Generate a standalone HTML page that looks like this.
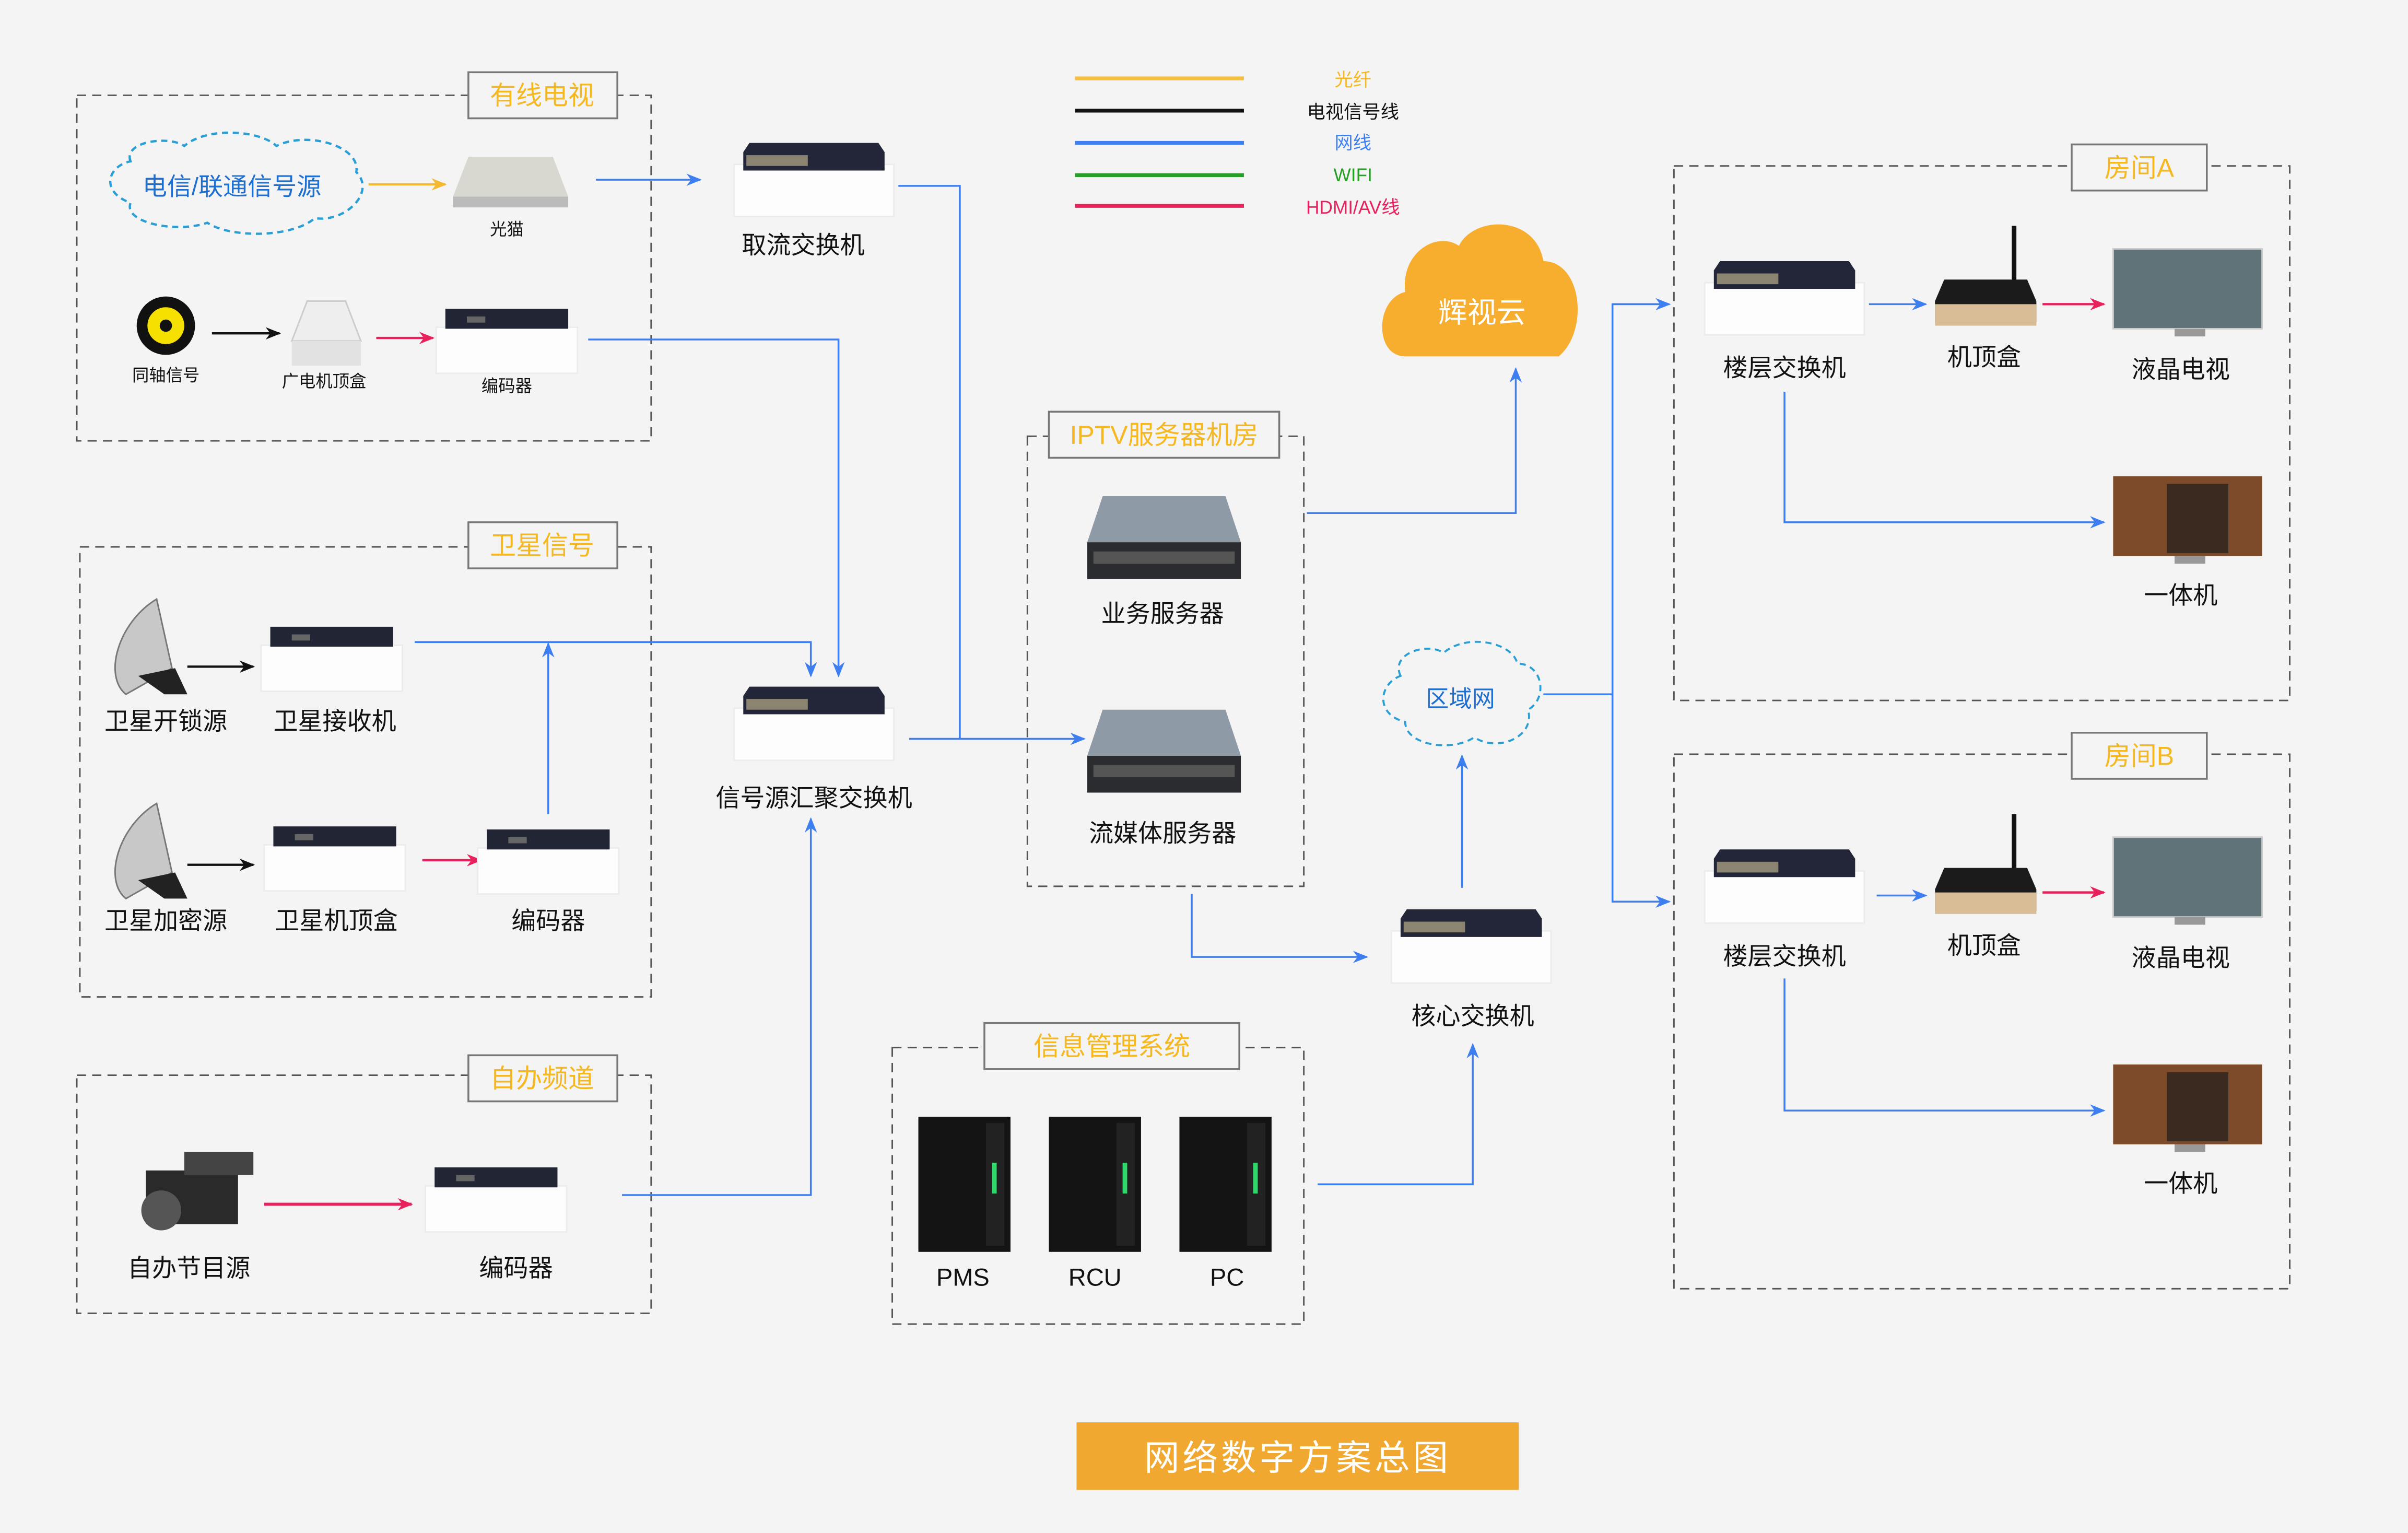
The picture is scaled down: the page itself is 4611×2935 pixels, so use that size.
<!DOCTYPE html>
<html><head><meta charset="utf-8"><style>
html,body{margin:0;padding:0;background:#f4f4f4;}
svg{display:block;}
text{font-family:"Liberation Sans","Noto Sans CJK SC",sans-serif;}
</style></head><body>
<svg width="4611" height="2935" viewBox="0 0 1568 998" xmlns="http://www.w3.org/2000/svg">
<defs>
<marker id="ab" markerWidth="10" markerHeight="8" refX="9" refY="4" orient="auto" markerUnits="userSpaceOnUse"><path d="M0,0 L10,4 L0,8 L3,4z" fill="#3d7ff0"/></marker>
<marker id="ap" markerWidth="10" markerHeight="8" refX="9" refY="4" orient="auto" markerUnits="userSpaceOnUse"><path d="M0,0 L10,4 L0,8 L3,4z" fill="#e8205c"/></marker>
<marker id="ak" markerWidth="10" markerHeight="8" refX="9" refY="4" orient="auto" markerUnits="userSpaceOnUse"><path d="M0,0 L10,4 L0,8 L3,4z" fill="#111"/></marker>
<marker id="ao" markerWidth="10" markerHeight="8" refX="9" refY="4" orient="auto" markerUnits="userSpaceOnUse"><path d="M0,0 L10,4 L0,8 L3,4z" fill="#f5b830"/></marker>
<g id="sw">
<rect x="-6" y="14" width="104" height="34" fill="#fdfdfd" stroke="#ececec"/>
<path d="M4,0 L88,0 L92,6 L92,18 L0,18 L0,6z" fill="#232638"/>
<rect x="2" y="8" width="40" height="7" fill="#8a8470"/>
</g>
<g id="enc">
<rect x="-6" y="12" width="92" height="30" fill="#fdfdfd" stroke="#ececec"/>
<rect x="0" y="0" width="80" height="13" fill="#222533"/>
<rect x="14" y="5" width="12" height="4" fill="#666"/>
</g>
<g id="srv">
<path d="M10,0 L90,0 L100,30 L0,30z" fill="#8e9aa5"/>
<rect x="0" y="30" width="100" height="24" fill="#2a2c30"/>
<rect x="4" y="36" width="92" height="8" fill="#555"/>
</g>
<g id="tower">
<rect x="0" y="0" width="60" height="88" fill="#141414"/>
<rect x="44" y="4" width="12" height="80" fill="#222"/>
<rect x="48" y="30" width="3" height="20" fill="#2fd86a"/>
</g>
<g id="stb">
<rect x="50" y="-35" width="3" height="40" fill="#111"/>
<path d="M6,0 L60,0 L66,14 L66,28 L0,28 L0,14z" fill="#1b1b1b"/>
<rect x="0" y="16" width="66" height="14" fill="#d8bd96"/>
</g>
<g id="tv">
<rect x="0" y="0" width="97" height="52" fill="#5f7378"/>
<rect x="0" y="0" width="97" height="52" fill="none" stroke="#ccc"/>
<rect x="40" y="52" width="20" height="5" fill="#999"/>
</g>
<g id="tv2">
<rect x="0" y="0" width="97" height="52" fill="#7d4a2a"/>
<rect x="35" y="5" width="40" height="45" fill="#3a2a20"/>
<rect x="40" y="52" width="20" height="5" fill="#999"/>
</g>
<g id="dish">
<path d="M30,0 C5,15 -5,50 10,62 L40,45z" fill="#c8c8c8" stroke="#777"/>
<path d="M18,50 L35,62 L50,62 L42,45z" fill="#222"/>
</g>
</defs>
<rect width="1568" height="998" fill="#f4f4f4"/>
<g fill="none" stroke="#555" stroke-width="1" stroke-dasharray="6,4">
<rect x="50" y="62" width="374" height="225"/>
<rect x="52" y="356" width="372" height="293"/>
<rect x="50" y="700" width="374" height="155"/>
<rect x="669" y="284" width="180" height="293"/>
<rect x="581" y="682" width="268" height="180"/>
<rect x="1090" y="108" width="401" height="348"/>
<rect x="1090" y="491" width="401" height="348"/>
</g>
<g fill="#f4f4f4" stroke="#777" stroke-width="1.2">
<rect x="305" y="47" width="97" height="30"/><rect x="305" y="340" width="97" height="30"/><rect x="305" y="687" width="97" height="30"/>
<rect x="683" y="268" width="150" height="30"/><rect x="641" y="666" width="166" height="30"/>
<rect x="1349" y="94" width="88" height="30"/><rect x="1349" y="477" width="88" height="30"/>
</g>
<g fill="#f5b820" font-size="17" text-anchor="middle">
<text x="353" y="68">有线电视</text><text x="353" y="361">卫星信号</text><text x="353" y="708">自办频道</text>
<text x="758" y="289">IPTV服务器机房</text><text x="724" y="687">信息管理系统</text>
<text x="1393" y="115">房间A</text><text x="1393" y="498">房间B</text>
</g>
<!-- legend -->
<g stroke-width="2.5">
<line x1="700" y1="51" x2="810" y2="51" stroke="#f5c040"/>
<line x1="700" y1="72" x2="810" y2="72" stroke="#111"/>
<line x1="700" y1="93" x2="810" y2="93" stroke="#3d7ff0"/>
<line x1="700" y1="114" x2="810" y2="114" stroke="#28a028"/>
<line x1="700" y1="134" x2="810" y2="134" stroke="#e8205c"/>
</g>
<g font-size="12" text-anchor="middle">
<text x="881" y="56" fill="#f5b820">光纤</text><text x="881" y="77" fill="#111">电视信号线</text>
<text x="881" y="97" fill="#3d7ff0">网线</text><text x="881" y="118" fill="#28a028">WIFI</text>
<text x="881" y="139" fill="#e8205c">HDMI/AV线</text>
</g>
<!-- clouds -->
<path d="M85,105 C80,92 110,88 120,95 C135,82 170,85 180,95 C200,85 235,95 232,112 C245,125 225,145 205,142 C190,155 150,155 135,145 C115,152 80,145 85,132 C65,125 70,108 85,105z" fill="none" stroke="#2a9fd6" stroke-width="1.5" stroke-dasharray="4,3"/>
<text x="151" y="127" fill="#1f6fd0" font-size="16" text-anchor="middle">电信/联通信号源</text>
<path d="M915,232 C895,232 895,195 915,190 C912,165 935,150 950,160 C960,140 1000,140 1005,170 C1030,170 1035,215 1015,232z" fill="#f7ae2e"/>
<text x="965" y="210" fill="#fff" font-size="19" text-anchor="middle">辉视云</text>
<path d="M912,440 C905,425 930,418 940,425 C955,412 985,418 988,432 C1005,432 1008,455 995,462 C1000,480 975,490 960,480 C945,490 915,485 915,470 C895,465 898,445 912,440z" fill="none" stroke="#2a9fd6" stroke-width="1.3" stroke-dasharray="4,3"/>
<text x="951" y="460" fill="#1f6fd0" font-size="15" text-anchor="middle">区域网</text>
<!-- connectors -->
<g fill="none" stroke="#3d7ff0" stroke-width="1.2">
<line x1="388" y1="117" x2="456" y2="117" marker-end="url(#ab)"/>
<polyline points="585,121 625,121 625,481"/>
<polyline points="383,221 546,221 546,440" marker-end="url(#ab)"/>
<polyline points="270,418 528,418 528,440" marker-end="url(#ab)"/>
<line x1="357" y1="530" x2="357" y2="419" marker-end="url(#ab)"/>
<polyline points="405,778 528,778 528,533" marker-end="url(#ab)"/>
<line x1="592" y1="481" x2="706" y2="481" marker-end="url(#ab)"/>
<polyline points="851,334 987,334 987,240" marker-end="url(#ab)"/>
<line x1="952" y1="578" x2="952" y2="492" marker-end="url(#ab)"/>
<polyline points="776,582 776,623 890,623" marker-end="url(#ab)"/>
<polyline points="858,771 959,771 959,680" marker-end="url(#ab)"/>
<line x1="1005" y1="452" x2="1050" y2="452"/>
<polyline points="1087,198 1050,198 1050,587 1087,587"/>
<line x1="1050" y1="198" x2="1087" y2="198" marker-end="url(#ab)"/>
<line x1="1050" y1="587" x2="1087" y2="587" marker-end="url(#ab)"/>
<line x1="1217" y1="198" x2="1254" y2="198" marker-end="url(#ab)"/>
<line x1="1222" y1="583" x2="1254" y2="583" marker-end="url(#ab)"/>
<polyline points="1162,255 1162,340 1370,340" marker-end="url(#ab)"/>
<polyline points="1162,637 1162,723 1370,723" marker-end="url(#ab)"/>
</g>
<g stroke-width="1.5" fill="none">
<line x1="240" y1="120" x2="290" y2="120" stroke="#f5b830" marker-end="url(#ao)"/>
<line x1="138" y1="217" x2="182" y2="217" stroke="#111" marker-end="url(#ak)"/>
<line x1="122" y1="434" x2="165" y2="434" stroke="#111" marker-end="url(#ak)"/>
<line x1="122" y1="563" x2="165" y2="563" stroke="#111" marker-end="url(#ak)"/>
<line x1="245" y1="220" x2="282" y2="220" stroke="#e8205c" marker-end="url(#ap)"/>
<line x1="275" y1="560" x2="313" y2="560" stroke="#e8205c" marker-end="url(#ap)"/>
<line x1="172" y1="784" x2="268" y2="784" stroke="#e8205c" stroke-width="2" marker-end="url(#ap)"/>
<line x1="1330" y1="198" x2="1370" y2="198" stroke="#e8205c" marker-end="url(#ap)"/>
<line x1="1330" y1="581" x2="1370" y2="581" stroke="#e8205c" marker-end="url(#ap)"/>
</g>
<!-- devices -->
<path d="M305,102 L360,102 L370,128 L295,128z" fill="#d8d8d0"/><rect x="295" y="128" width="75" height="7" fill="#bbb"/>
<circle cx="108" cy="212" r="19" fill="#111"/><circle cx="108" cy="212" r="12" fill="#f5e000"/><circle cx="108" cy="212" r="4" fill="#111"/>
<path d="M200,196 L225,196 L235,222 L190,222z" fill="#eee" stroke="#ccc"/><rect x="190" y="222" width="45" height="16" fill="#e2e2e2"/>
<use href="#enc" x="290" y="201"/>
<use href="#sw" x="484" y="93"/>
<use href="#dish" x="72" y="390"/><use href="#dish" x="72" y="523"/>
<use href="#enc" x="176" y="408"/><use href="#enc" x="178" y="538"/><use href="#enc" x="317" y="540"/>
<rect x="95" y="762" width="60" height="35" fill="#2a2a2a"/><circle cx="105" cy="788" r="13" fill="#555"/><rect x="120" y="750" width="45" height="15" fill="#444"/>
<use href="#enc" x="283" y="760"/>
<use href="#sw" x="484" y="447"/>
<use href="#srv" x="708" y="323"/><use href="#srv" x="708" y="462"/>
<use href="#sw" x="912" y="592"/>
<use href="#tower" x="598" y="727"/><use href="#tower" x="683" y="727"/><use href="#tower" x="768" y="727"/>
<use href="#sw" x="1116" y="170"/><use href="#sw" x="1116" y="553"/>
<use href="#stb" x="1260" y="182"/><use href="#stb" x="1260" y="565"/>
<use href="#tv" x="1376" y="162"/><use href="#tv" x="1376" y="545"/>
<use href="#tv2" x="1376" y="310"/><use href="#tv2" x="1376" y="693"/>
<!-- labels -->
<g fill="#111" text-anchor="middle">
<g font-size="11"><text x="330" y="153">光猫</text><text x="108" y="248">同轴信号</text><text x="211" y="252">广电机顶盒</text><text x="330" y="255">编码器</text></g>
<g font-size="16">
<text x="523" y="165">取流交换机</text>
<text x="108" y="475">卫星开锁源</text><text x="218" y="475">卫星接收机</text>
<text x="108" y="605">卫星加密源</text><text x="219" y="605">卫星机顶盒</text><text x="357" y="605">编码器</text>
<text x="123" y="831">自办节目源</text><text x="336" y="831">编码器</text>
<text x="530" y="525">信号源汇聚交换机</text>
<text x="757" y="405">业务服务器</text><text x="757" y="548">流媒体服务器</text>
<text x="959" y="667">核心交换机</text>
<text x="627" y="837">PMS</text><text x="713" y="837">RCU</text><text x="799" y="837">PC</text>
<text x="1162" y="245">楼层交换机</text><text x="1292" y="238">机顶盒</text><text x="1420" y="246">液晶电视</text><text x="1420" y="393">一体机</text>
<text x="1162" y="628">楼层交换机</text><text x="1292" y="621">机顶盒</text><text x="1420" y="629">液晶电视</text><text x="1420" y="776">一体机</text>
</g></g>
<rect x="701" y="926" width="288" height="44" fill="#f0a830"/>
<text x="845" y="957" fill="#fff" font-size="23" text-anchor="middle" letter-spacing="2">网络数字方案总图</text>
</svg>
</body></html>
